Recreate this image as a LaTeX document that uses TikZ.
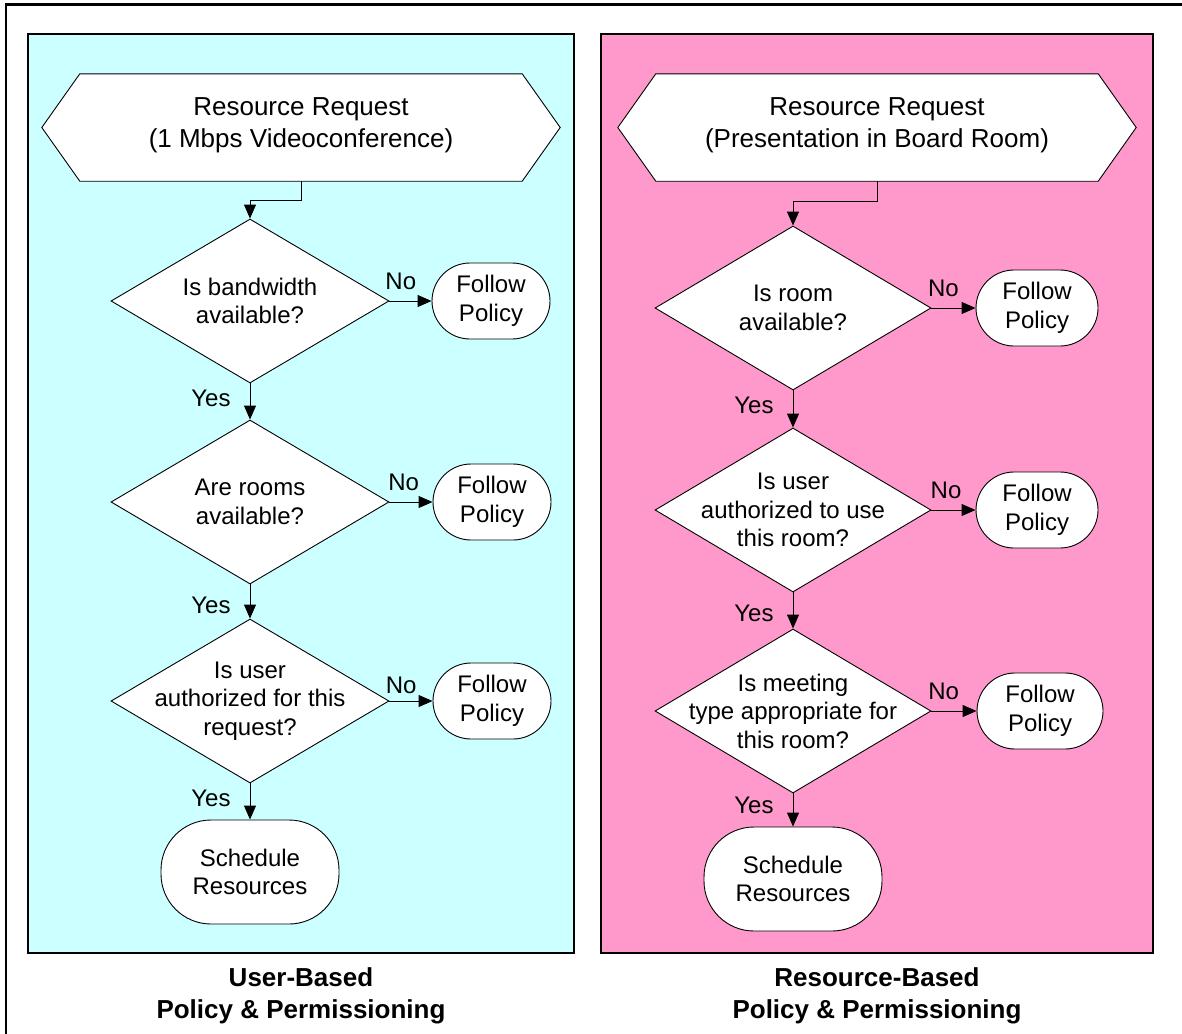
\documentclass[tikz,border=0pt]{standalone}
\usepackage{fontspec}
\setmainfont{Liberation Sans}
\usetikzlibrary{shapes.geometric,arrows.meta}
\definecolor{cyanbg}{HTML}{CCFFFF}
\definecolor{pinkbg}{HTML}{FF99CC}
\tikzset{
 decbox/.style={diamond, draw, fill=white, line width=0.9pt, inner sep=0pt, minimum width=278pt, minimum height=164pt},
 dtext/.style={align=center, inner sep=0pt, font=\fontsize{24}{28.5}\selectfont},
 termbox/.style={draw, fill=white, line width=0.9pt, rounded corners=38pt, minimum width=118pt, minimum height=76pt, align=center, inner sep=0pt, font=\fontsize{24}{28.5}\selectfont},
 schedbox/.style={termbox, rounded corners=50pt, minimum width=178pt, minimum height=104pt},
 hexbox/.style={minimum width=442pt, minimum height=107pt, inner sep=0pt},
 hexline/.style={draw, fill=white, line width=0.9pt},
 hextext/.style={align=center, inner sep=0pt, font=\fontsize{26}{32}\selectfont},
 arr/.style={line width=0.9pt, -{Triangle[length=14pt,width=12pt]}},
 lbl/.style={font=\fontsize{24}{28}\selectfont, inner sep=2pt},
 panelbox/.style={draw, line width=2pt},
 captxt/.style={align=center, inner sep=0pt, font=\fontsize{26}{32}\selectfont\bfseries}
}
\begin{document}
\begin{tikzpicture}[x=1pt,y=-1pt]
\useasboundingbox (0,0) rectangle (1182,1033);
\clip (0,0) rectangle (1182,1033);
\fill[white] (0,0) rectangle (1182,1033);
% outer frame (cut off at right and bottom)
\draw[line width=2.5pt] (6,1045) -- (6,4.5) -- (1195,4.5);
% panels
\draw[panelbox, fill=cyanbg] (27.5,34.5) rectangle (573.5,953);
\draw[panelbox, fill=pinkbg] (601,34.5) rectangle (1153,953);

% ---------- left panel ----------
\node[hexbox] (h1) at (301,127.5) {};
\draw[hexline] (h1.north west) -- (h1.north east) -- ([xshift=38pt]h1.east) -- (h1.south east) -- (h1.south west) -- ([xshift=-38pt]h1.west) -- cycle;
\node[hextext] (h1t) at ([yshift=2pt]h1.center) {Resource Request\\(1 Mbps Videoconference)};

\node[decbox] (a1) at (250,301) {};
\node[dtext] (a1t) at (a1) {Is bandwidth\\available?};
\node[termbox] (af1) at (491,301) {Follow\\Policy};

\node[decbox] (a2) at (250,502) {};
\node[dtext] (a2t) at (a2) {Are rooms\\available?};
\node[termbox] (af2) at (492,502) {Follow\\Policy};

\node[decbox] (a3) at (250,701) {};
\node[dtext] (a3t) at (a3) {Is user\\authorized for this\\request?};
\node[termbox] (af3) at (492,701) {Follow\\Policy};

\node[schedbox] (as) at (250,872) {Schedule\\Resources};

\draw[arr] (h1.south) -- ++(0,19) -| (a1.north);
\draw[arr] (a1.east) -- node[lbl, pos=0.27, above=9pt] {No} (af1.west);
\draw[arr] (a2.east) -- node[lbl, pos=0.33, above=9pt] {No} (af2.west);
\draw[arr] (a3.east) -- node[lbl, pos=0.27, above=5pt] {No} (af3.west);
\draw[arr] (a1.south) -- node[lbl, pos=0.4, left=17pt] {Yes} (a2.north);
\draw[arr] (a2.south) -- node[lbl, pos=0.6, left=17pt] {Yes} (a3.north);
\draw[arr] (a3.south) -- node[lbl, pos=0.4, left=17pt] {Yes} (as.north);

\node[captxt] (c1) at (301,996) {User-Based\\Policy \& Permissioning};

% ---------- right panel ----------
\node[hexbox] (h2) at (877,127.5) {};
\draw[hexline] (h2.north west) -- (h2.north east) -- ([xshift=38pt]h2.east) -- (h2.south east) -- (h2.south west) -- ([xshift=-38pt]h2.west) -- cycle;
\node[hextext] (h2t) at ([yshift=2pt]h2.center) {Resource Request\\(Presentation in Board Room)};

\node[decbox, minimum width=276pt] (b1) at (793,308) {};
\node[dtext] (b1t) at (b1) {Is room\\available?};
\node[termbox, minimum width=122pt] (bf1) at (1037,308) {Follow\\Policy};

\node[decbox, minimum width=276pt] (b2) at (793,510) {};
\node[dtext] (b2t) at (b2) {Is user\\authorized to use\\this room?};
\node[termbox, minimum width=122pt] (bf2) at (1037,510) {Follow\\Policy};

\node[decbox, minimum width=276pt] (b3) at (793,711) {};
\node[dtext] (b3t) at (b3) {Is meeting\\type appropriate for\\this room?};
\node[termbox, minimum width=126pt] (bf3) at (1040,711) {Follow\\Policy};

\node[schedbox] (bs) at (793,879) {Schedule\\Resources};

\draw[arr] (h2.south) -- ++(0,20) -| (b1.north);
\draw[arr] (b1.east) -- node[lbl, pos=0.27, above=9pt] {No} (bf1.west);
\draw[arr] (b2.east) -- node[lbl, pos=0.33, above=9pt] {No} (bf2.west);
\draw[arr] (b3.east) -- node[lbl, pos=0.27, above=9pt] {No} (bf3.west);
\draw[arr] (b1.south) -- node[lbl, pos=0.4, left=17pt] {Yes} (b2.north);
\draw[arr] (b2.south) -- node[lbl, pos=0.57, left=17pt] {Yes} (b3.north);
\draw[arr] (b3.south) -- node[lbl, pos=0.35, left=17pt] {Yes} (bs.north);

\node[captxt] (c2) at (877,996) {Resource-Based\\Policy \& Permissioning};
\end{tikzpicture}
\end{document}
